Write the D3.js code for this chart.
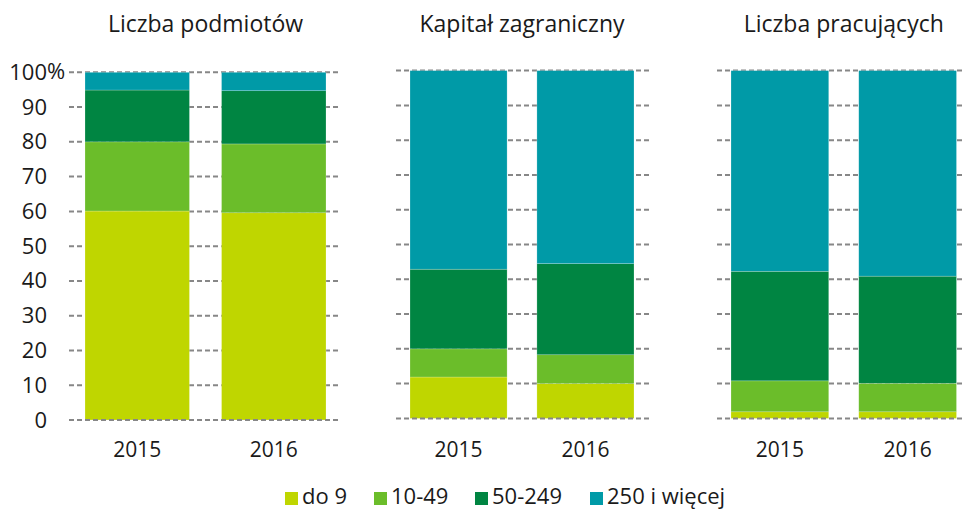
<!DOCTYPE html>
<html>
<head>
<meta charset="utf-8">
<script src="https://cdn.jsdelivr.net/npm/d3@7"></script>
<style>
  body { margin: 0; background: #fff; }
  text { font-family: "Open Sans", "Noto Sans", sans-serif; fill: #1a1a1a; }
</style>
</head>
<body>
<div id="chart"></div>
<script>
// data
var panels = ['Liczba podmiotów', 'Kapitał zagraniczny', 'Liczba pracujących'];
var years = ['2015', '2016'];
var groups = ['do 9', '10-49', '50-249', '250 i więcej'];
var colors = ['#bfd600', '#6bbd2a', '#008542', '#009aa7'];
var yTicks = [0, 10, 20, 30, 40, 50, 60, 70, 80, 90, 100];

// shares per panel, [2015, 2016]
var doDziewieciu = [[60.1, 59.6], [11.9, 10.0], [1.9, 1.9]];
var od10do49     = [[19.9, 19.8], [8.1, 8.3], [8.9, 8.2]];
var od50do249    = [[14.9, 15.3], [22.9, 26.2], [31.5, 30.8]];
var od250        = [[5.1, 5.3], [57.1, 55.5], [57.7, 59.1]];

var series = [doDziewieciu, od10do49, od50do249, od250];

var width = 965,
    height = 510;

// per panel layout: grid extent, bar range, baseline, top
var layout = [
   {g0: 69, g1: 341, b0: 85, b1: 326, y0: 420, y1: 72.3},
   {g0: 396, g1: 649, b0: 410, b1: 634, y0: 418.4, y1: 70.6},
   {g0: 717, g1: 972, b0: 731, b1: 956.5, y0: 418.4, y1: 70.6}
];

var svg = d3.select('#chart')
   .append('svg')
   .attr('width', width)
   .attr('height', height);

panels.forEach(function (title, p) {
   var L = layout[p];
   var x = d3.scaleBand().domain(years).range([L.b0, L.b1]).paddingInner(0.235);
   var y = d3.scaleLinear().domain([0, 100]).range([L.y0, L.y1]);

   var rows = years.map(function (yr, i) {
      var r = {year: yr};
      groups.forEach(function (g, k) { r[g] = series[k][p][i]; });
      return r;
   });
   var stacked = d3.stack().keys(groups)(rows);

   var g = svg.append('g');

   // grid
   g.selectAll('line.grid')
      .data(yTicks.slice(1))
      .enter().append('line')
      .attr('x1', L.g0)
      .attr('x2', L.g1)
      .attr('y1', function (d) { return y(d); })
      .attr('y2', function (d) { return y(d); })
      .attr('stroke', '#878787')
      .attr('stroke-width', 2)
      .attr('stroke-dasharray', '5,3');

   g.selectAll('g.layer')
      .data(stacked)
      .enter().append('g')
      .attr('fill', function (d, i) { return colors[i]; })
      .selectAll('rect')
      .data(function (d) { return d; })
      .enter().append('rect')
      .attr('x', function (d) { return x(d.data.year); })
      .attr('width', x.bandwidth())
      .attr('y', function (d) { return y(d[1]); })
      .attr('height', function (d) { return y(d[0]) - y(d[1]); })
      .attr('stroke', 'rgba(255,255,255,0.35)')
      .attr('stroke-width', 0.6);

   // baseline on top
   g.append('line')
      .attr('x1', L.g0)
      .attr('x2', L.g1)
      .attr('y1', y(0))
      .attr('y2', y(0))
      .attr('stroke', '#878787')
      .attr('stroke-width', 2)
      .attr('stroke-dasharray', '5,3');

   // title
   g.append('text')
      .attr('x', (L.b0 + L.b1) / 2)
      .attr('y', 32)
      .attr('text-anchor', 'middle')
      .style('font-size', '23px')
      .text(title);

   // x axis labels
   var xAxis = d3.axisBottom(x).tickSize(0).tickPadding(0);
   g.append('g')
      .attr('transform', 'translate(0,' + 442 + ')')
      .call(xAxis)
      .call(function (s) { s.select('.domain').remove(); })
      .selectAll('text')
      .attr('dy', '0.72em')
      .style('font-size', '21px')
      .style('fill', '#1a1a1a');

   // y axis only on first panel
   if (p === 0) {
      var yAxis = d3.axisLeft(y).tickValues(yTicks).tickSize(0).tickPadding(0)
         .tickFormat(function (d) { return d; });
      var ya = g.append('g')
         .attr('transform', 'translate(47,0)')
         .call(yAxis);
      ya.select('.domain').remove();
      ya.selectAll('text')
         .style('font-size', '22px')
         .style('fill', '#1a1a1a');
      g.append('text')
         .attr('x', 47)
         .attr('y', y(100))
         .attr('dy', '0.32em')
         .style('font-size', '22px')
         .text('%');
   }
});

// legend
var legendX = [285, 374, 475, 590];
var legend = svg.append('g');
legend.selectAll('rect')
   .data(groups)
   .enter().append('rect')
   .attr('x', function (d, i) { return legendX[i]; })
   .attr('y', 492)
   .attr('width', 13)
   .attr('height', 13)
   .attr('fill', function (d, i) { return colors[i]; });
legend.selectAll('text')
   .data(groups)
   .enter().append('text')
   .attr('x', function (d, i) { return legendX[i] + 17; })
   .attr('y', 504)
   .style('font-size', '22px')
   .text(function (d) { return d; });
</script>
</body>
</html>
